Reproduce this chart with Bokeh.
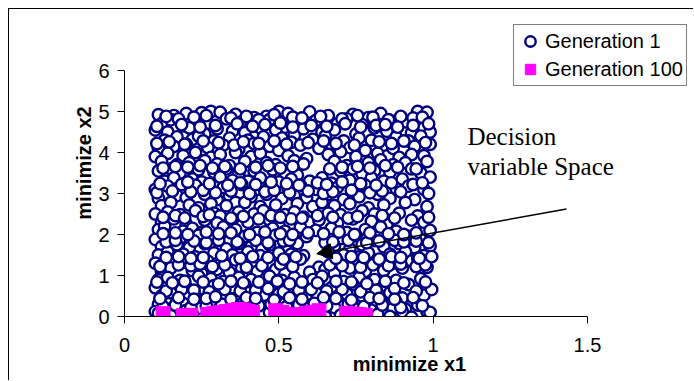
from bokeh.plotting import figure
from bokeh.models import (Range1d, Legend, LegendItem, Arrow, NormalHead, Label,
                          FixedTicker, NumeralTickFormatter)
from bokeh.embed import file_html
from bokeh.resources import INLINE

# ---------------- data ----------------
gen1_x = [
    0.11, 0.16, 0.20, 0.25, 0.28, 0.31, 0.36, 0.42, 0.46, 0.50, 0.53, 0.60, 0.66, 0.74, 0.79, 0.83, 0.95, 0.98,
    0.12, 0.15, 0.19, 0.23, 0.27, 0.33, 0.38, 0.41, 0.47, 0.52, 0.56, 0.62, 0.69, 0.72, 0.77, 0.86, 0.91, 0.97,
    0.10, 0.14, 0.21, 0.26, 0.30, 0.35, 0.39, 0.44, 0.49, 0.55, 0.58, 0.64, 0.68, 0.75, 0.81, 0.85, 0.93, 0.99,
    0.13, 0.17, 0.22, 0.24, 0.29, 0.34, 0.40, 0.45, 0.51, 0.54, 0.61, 0.65, 0.71, 0.76, 0.80, 0.88, 0.92, 0.96,
    0.11, 0.16, 0.20, 0.27, 0.32, 0.37, 0.42, 0.47, 0.50, 0.57, 0.63, 0.67, 0.73, 0.78, 0.84, 0.87, 0.94, 0.99,
    0.10, 0.14, 0.19, 0.23, 0.28, 0.31, 0.36, 0.41, 0.44, 0.53, 0.59, 0.66, 0.70, 0.75, 0.82, 0.89, 0.93, 0.97,
    0.12, 0.17, 0.21, 0.26, 0.30, 0.34, 0.39, 0.46, 0.49, 0.55, 0.58, 0.68, 0.72, 0.79, 0.83, 0.87, 0.91, 0.98,
    0.11, 0.15, 0.18, 0.24, 0.29, 0.33, 0.37, 0.42, 0.48, 0.52, 0.56, 0.70, 0.74, 0.77, 0.81, 0.86, 0.93, 0.96,
    0.13, 0.16, 0.22, 0.25, 0.31, 0.35, 0.40, 0.44, 0.50, 0.54, 0.60, 0.64, 0.67, 0.73, 0.80, 0.84, 0.90, 0.99,
    0.10, 0.14, 0.19, 0.23, 0.27, 0.32, 0.38, 0.43, 0.47, 0.53, 0.57, 0.62, 0.69, 0.75, 0.78, 0.88, 0.92, 0.97,
    0.11, 0.17, 0.20, 0.26, 0.30, 0.34, 0.36, 0.41, 0.46, 0.51, 0.55, 0.59, 0.66, 0.71, 0.76, 0.82, 0.86, 0.94,
    0.12, 0.15, 0.21, 0.24, 0.28, 0.33, 0.39, 0.44, 0.49, 0.56, 0.61, 0.64, 0.68, 0.73, 0.79, 0.84, 0.91, 0.98,
    0.10, 0.14, 0.18, 0.23, 0.29, 0.31, 0.37, 0.42, 0.45, 0.52, 0.55, 0.58, 0.66, 0.70, 0.77, 0.81, 0.89, 0.95,
    0.12, 0.16, 0.20, 0.26, 0.30, 0.35, 0.40, 0.47, 0.50, 0.54, 0.60, 0.63, 0.69, 0.74, 0.80, 0.85, 0.93, 0.97,
    0.11, 0.13, 0.19, 0.22, 0.25, 0.32, 0.36, 0.43, 0.48, 0.52, 0.57, 0.62, 0.67, 0.72, 0.78, 0.83, 0.88, 0.99,
    0.10, 0.15, 0.18, 0.24, 0.28, 0.34, 0.39, 0.45, 0.49, 0.55, 0.59, 0.65, 0.70, 0.75, 0.81, 0.86, 0.92, 0.96,
    0.12, 0.17, 0.21, 0.26, 0.31, 0.33, 0.37, 0.41, 0.47, 0.52, 0.56, 0.68, 0.73, 0.77, 0.84, 0.89, 0.94, 0.99,
    0.11, 0.14, 0.19, 0.23, 0.29, 0.35, 0.40, 0.44, 0.50, 0.54, 0.58, 0.66, 0.71, 0.76, 0.79, 0.86, 0.91, 0.97,
    0.10, 0.16, 0.20, 0.27, 0.31, 0.36, 0.42, 0.46, 0.48, 0.53, 0.57, 0.63, 0.69, 0.74, 0.82, 0.87, 0.93, 0.95,
    0.12, 0.15, 0.22, 0.25, 0.30, 0.34, 0.38, 0.43, 0.49, 0.52, 0.60, 0.65, 0.68, 0.73, 0.78, 0.84, 0.90, 0.98,
    0.11, 0.14, 0.18, 0.24, 0.28, 0.32, 0.37, 0.41, 0.47, 0.51, 0.55, 0.61, 0.64, 0.71, 0.76, 0.81, 0.88, 0.96,
    0.10, 0.16, 0.20, 0.26, 0.29, 0.35, 0.39, 0.44, 0.48, 0.53, 0.58, 0.63, 0.67, 0.74, 0.79, 0.85, 0.92, 0.98,
    0.12, 0.15, 0.21, 0.23, 0.31, 0.33, 0.40, 0.45, 0.50, 0.55, 0.59, 0.62, 0.69, 0.72, 0.77, 0.86, 0.90, 0.97,
    0.11, 0.17, 0.19, 0.25, 0.28, 0.36, 0.38, 0.43, 0.46, 0.52, 0.57, 0.61, 0.66, 0.70, 0.81, 0.84, 0.88, 0.95,
    0.10, 0.14, 0.20, 0.24, 0.30, 0.34, 0.41, 0.45, 0.49, 0.54, 0.58, 0.63, 0.68, 0.75, 0.80, 0.87, 0.91, 0.98,
    0.11, 0.15, 0.22, 0.27, 0.33, 0.39, 0.44, 0.47, 0.51, 0.60, 0.65, 0.70, 0.77, 0.82, 0.86, 0.90, 0.93, 0.99,
    0.135, 0.175, 0.225, 0.265, 0.345, 0.395, 0.435, 0.485, 0.545, 0.575, 0.635, 0.705, 0.755, 0.805, 0.855, 0.895, 0.935, 0.965,
    0.105, 0.145, 0.195, 0.255, 0.305, 0.355, 0.385, 0.435, 0.485, 0.525, 0.595, 0.645, 0.685, 0.745, 0.825, 0.865, 0.905, 0.975,
    0.125, 0.165, 0.205, 0.245, 0.285, 0.325, 0.375, 0.425, 0.465, 0.505, 0.545, 0.665, 0.705, 0.755, 0.795, 0.845, 0.885, 0.945,
    0.105, 0.155, 0.215, 0.255, 0.295, 0.345, 0.405, 0.455, 0.485, 0.535, 0.595, 0.645, 0.675, 0.735, 0.795, 0.835, 0.895, 0.985,
    0.125, 0.165, 0.195, 0.255, 0.275, 0.345, 0.385, 0.435, 0.475, 0.505, 0.575, 0.625, 0.675, 0.725, 0.755, 0.835, 0.875, 0.985,
    0.135, 0.165, 0.225, 0.265, 0.305, 0.365, 0.425, 0.465, 0.515, 0.535, 0.675, 0.725, 0.785, 0.825, 0.875, 0.905, 0.945, 0.985,
    0.115, 0.175, 0.215, 0.245, 0.285, 0.325, 0.395, 0.445, 0.505, 0.545, 0.665, 0.705, 0.765, 0.805, 0.855, 0.895, 0.945, 0.975,
    0.135, 0.185, 0.225, 0.275, 0.325, 0.375, 0.425, 0.465, 0.515, 0.565, 0.605, 0.655, 0.705, 0.765, 0.815, 0.875, 0.945, 0.995,
    0.125, 0.165, 0.215, 0.265, 0.315, 0.355, 0.395, 0.435, 0.475, 0.525, 0.565, 0.615, 0.655, 0.725, 0.775, 0.835, 0.895, 0.965,
    0.105, 0.185, 0.245, 0.295, 0.365, 0.415, 0.455, 0.505, 0.545, 0.605, 0.655, 0.715, 0.765, 0.815, 0.845, 0.885, 0.935, 0.985,
    0.115, 0.185, 0.205, 0.275, 0.335, 0.375, 0.425, 0.475, 0.525, 0.565, 0.625, 0.655, 0.705, 0.765, 0.815, 0.865, 0.935, 0.965,
    0.125, 0.165, 0.205, 0.265, 0.305, 0.345, 0.405, 0.455, 0.505, 0.545, 0.595, 0.645, 0.695, 0.745, 0.795, 0.855, 0.905, 0.945,
    0.135, 0.175, 0.215, 0.255, 0.315, 0.375, 0.415, 0.465, 0.515, 0.555, 0.685, 0.735, 0.775, 0.825, 0.865, 0.895, 0.955, 0.995,
    0.105, 0.155, 0.195, 0.255, 0.305, 0.345, 0.385, 0.435, 0.495, 0.535, 0.575, 0.625, 0.685, 0.735, 0.785, 0.845, 0.905, 0.975,
    0.115, 0.175, 0.225, 0.265, 0.295, 0.345, 0.395, 0.425, 0.485, 0.535, 0.575, 0.645, 0.685, 0.735, 0.795, 0.825, 0.875, 0.935,
]
gen1_y = [
    4.92, 4.90, 4.95, 4.97, 5.00, 4.98, 4.93, 4.85, 4.88, 5.00, 4.95, 4.99, 4.90, 4.93, 4.85, 4.95, 5.00, 4.98,
    4.70, 4.80, 4.65, 4.78, 4.72, 4.82, 4.75, 4.68, 4.80, 4.62, 4.75, 4.78, 4.70, 4.82, 4.68, 4.78, 4.75, 4.60,
    4.55, 4.50, 4.60, 4.45, 4.58, 4.52, 4.48, 4.60, 4.55, 4.42, 4.58, 4.50, 4.55, 4.45, 4.60, 4.52, 4.48, 4.50,
    4.30, 4.38, 4.32, 4.40, 4.28, 4.35, 4.30, 4.38, 4.35, 4.25, 4.32, 4.40, 4.28, 4.35, 4.30, 4.38, 4.28, 4.40,
    4.10, 4.15, 4.20, 4.12, 4.18, 4.08, 4.22, 4.15, 4.05, 4.18, 4.10, 4.20, 4.12, 4.05, 4.18, 4.10, 4.15, 4.20,
    3.90, 3.98, 3.92, 4.00, 3.88, 3.95, 4.00, 3.90, 3.98, 3.92, 3.85, 3.95, 4.02, 3.90, 3.98, 3.88, 3.95, 3.92,
    3.78, 3.70, 3.75, 3.80, 3.72, 3.68, 3.78, 3.75, 3.70, 3.80, 3.72, 3.78, 3.68, 3.75, 3.82, 3.70, 3.75, 3.78,
    3.55, 3.60, 3.50, 3.58, 3.52, 3.60, 3.48, 3.55, 3.58, 3.50, 3.45, 3.55, 3.60, 3.48, 3.55, 3.52, 3.60, 3.50,
    3.30, 3.38, 3.35, 3.28, 3.40, 3.32, 3.30, 3.38, 3.28, 3.35, 3.30, 3.38, 3.25, 3.32, 3.38, 3.30, 3.35, 3.40,
    3.10, 3.18, 3.12, 3.20, 3.08, 3.15, 3.22, 3.10, 3.18, 3.12, 3.20, 3.10, 3.15, 3.08, 3.20, 3.12, 3.18, 3.10,
    2.88, 2.95, 2.90, 2.98, 2.85, 2.95, 2.78, 2.92, 2.98, 2.88, 2.95, 2.90, 2.98, 2.85, 2.92, 2.98, 2.88, 2.85,
    2.70, 2.78, 2.72, 2.65, 2.75, 2.70, 2.78, 2.68, 2.72, 2.75, 2.68, 2.78, 2.70, 2.75, 2.65, 2.72, 2.78, 2.68,
    2.50, 2.55, 2.48, 2.58, 2.52, 2.45, 2.55, 2.50, 2.58, 2.48, 2.55, 2.42, 2.52, 2.48, 2.58, 2.50, 2.52, 2.45,
    2.30, 2.38, 2.25, 2.35, 2.28, 2.38, 2.30, 2.35, 2.25, 2.38, 2.30, 2.35, 2.28, 2.38, 2.32, 2.25, 2.35, 2.30,
    2.12, 2.20, 2.08, 2.15, 2.05, 2.18, 2.12, 2.05, 2.15, 2.08, 2.18, 2.10, 2.15, 2.05, 2.12, 2.18, 2.08, 2.10,
    1.88, 1.95, 1.90, 1.98, 1.92, 1.85, 1.95, 1.90, 1.98, 1.88, 1.95, 1.80, 1.90, 1.98, 1.85, 1.92, 1.95, 1.88,
    1.70, 1.75, 1.68, 1.78, 1.72, 1.65, 1.78, 1.70, 1.75, 1.68, 1.78, 1.72, 1.65, 1.75, 1.70, 1.78, 1.68, 1.72,
    1.50, 1.58, 1.52, 1.45, 1.55, 1.50, 1.58, 1.48, 1.55, 1.52, 1.48, 1.58, 1.50, 1.45, 1.55, 1.52, 1.58, 1.48,
    1.30, 1.38, 1.32, 1.35, 1.28, 1.38, 1.30, 1.35, 1.25, 1.38, 1.40, 1.20, 1.35, 1.28, 1.38, 1.30, 1.35, 1.42,
    1.10, 1.18, 1.12, 1.05, 1.15, 1.08, 1.18, 1.10, 1.15, 1.05, 1.08, 1.15, 1.05, 1.18, 1.10, 1.12, 1.18, 1.20,
    0.90, 0.95, 0.88, 0.98, 0.92, 0.85, 0.95, 0.90, 0.98, 0.88, 0.95, 0.90, 0.98, 0.85, 0.95, 0.90, 0.88, 0.92,
    0.70, 0.78, 0.72, 0.65, 0.75, 0.70, 0.78, 0.68, 0.72, 0.78, 0.65, 0.75, 0.70, 0.78, 0.68, 0.72, 0.78, 0.70,
    0.50, 0.58, 0.52, 0.45, 0.55, 0.48, 0.58, 0.50, 0.55, 0.45, 0.52, 0.58, 0.48, 0.55, 0.50, 0.58, 0.45, 0.52,
    0.30, 0.38, 0.32, 0.35, 0.28, 0.38, 0.30, 0.35, 0.25, 0.32, 0.38, 0.30, 0.35, 0.28, 0.38, 0.30, 0.35, 0.28,
    0.12, 0.18, 0.15, 0.20, 0.15, 0.22, 0.18, 0.15, 0.20, 0.15, 0.25, 0.18, 0.22, 0.18, 0.15, 0.20, 0.18, 0.12,
    0.08, 0.02, 0.05, 0.00, 0.08, 0.02, 0.05, 0.10, 0.00, 0.05, 0.00, 0.03, 0.08, 0.05, 0.00, 0.12, -0.02, 0.10,
    4.88, 4.82, 4.86, 4.90, 4.84, 4.88, 4.80, 4.92, 4.86, 4.84, 4.88, 4.82, 4.90, 4.86, 4.80, 4.88, 4.84, 4.86,
    4.22, 4.26, 4.20, 4.28, 4.24, 4.18, 4.26, 4.22, 4.28, 4.20, 4.24, 4.28, 4.22, 4.18, 4.26, 4.22, 4.28, 4.24,
    3.62, 3.66, 3.64, 3.68, 3.62, 3.66, 3.60, 3.64, 3.68, 3.62, 3.66, 3.60, 3.64, 3.66, 3.62, 3.68, 3.64, 3.60,
    3.02, 3.06, 3.04, 3.08, 3.02, 3.06, 3.00, 3.04, 3.08, 3.02, 3.06, 3.00, 3.04, 3.08, 3.02, 3.06, 3.04, 3.00,
    2.42, 2.46, 2.40, 2.44, 2.48, 2.40, 2.44, 2.38, 2.46, 2.42, 2.40, 2.46, 2.42, 2.40, 2.44, 2.46, 2.40, 2.42,
    1.82, 1.86, 1.84, 1.80, 1.86, 1.82, 1.86, 1.80, 1.84, 1.86, 1.82, 1.86, 1.80, 1.84, 1.86, 1.82, 1.84, 1.80,
    1.22, 1.26, 1.24, 1.28, 1.22, 1.26, 1.20, 1.24, 1.28, 1.22, 1.26, 1.24, 1.20, 1.26, 1.24, 1.28, 1.22, 1.26,
    0.62, 0.66, 0.64, 0.60, 0.66, 0.62, 0.64, 0.68, 0.60, 0.64, 0.66, 0.62, 0.66, 0.60, 0.64, 0.68, 0.62, 0.66,
    0.24, 0.28, 0.22, 0.26, 0.30, 0.28, 0.32, 0.26, 0.30, 0.24, 0.28, 0.32, 0.26, 0.30, 0.24, 0.28, 0.22, 0.26,
    4.64, 4.68, 4.62, 4.66, 4.70, 4.64, 4.68, 4.72, 4.62, 4.66, 4.64, 4.70, 4.62, 4.66, 4.68, 4.62, 4.66, 4.70,
    3.24, 3.22, 3.28, 3.24, 3.20, 3.26, 3.22, 3.28, 3.24, 3.20, 3.26, 3.22, 3.28, 3.24, 3.20, 3.26, 3.22, 3.26,
    2.02, 2.04, 2.00, 2.06, 2.02, 2.04, 2.00, 2.06, 2.02, 2.00, 2.04, 2.02, 2.06, 2.00, 2.04, 2.02, 2.00, 2.04,
    1.44, 1.46, 1.42, 1.44, 1.48, 1.42, 1.46, 1.44, 1.40, 1.46, 1.42, 1.46, 1.44, 1.40, 1.46, 1.44, 1.42, 1.46,
    0.84, 0.82, 0.86, 0.84, 0.80, 0.86, 0.82, 0.84, 0.86, 0.80, 0.84, 0.82, 0.86, 0.84, 0.80, 0.86, 0.82, 0.84,
    0.44, 0.46, 0.42, 0.44, 0.48, 0.42, 0.46, 0.44, 0.40, 0.46, 0.42, 0.46, 0.44, 0.40, 0.46, 0.44, 0.42, 0.46,
]

gen100_x = [0.125, 0.19, 0.215,
            0.27, 0.29, 0.31, 0.33, 0.35, 0.37, 0.385, 0.40, 0.415, 0.30, 0.34, 0.38, 0.41,
            0.49, 0.51, 0.53, 0.55, 0.57, 0.59, 0.61, 0.63, 0.50, 0.56,
            0.72, 0.74, 0.76, 0.78]
gen100_y = [0.07, 0.02, 0.03,
            0.05, 0.08, 0.10, 0.12, 0.15, 0.17, 0.16, 0.12, 0.10, 0.03, 0.05, 0.04, 0.03,
            0.14, 0.10, 0.05, 0.03, 0.05, 0.08, 0.10, 0.14, 0.04, 0.00,
            0.08, 0.06, 0.05, 0.03]

series_names = ["Generation 1", "Generation 100"]
x_ticks = [0, 0.5, 1, 1.5]
y_ticks = [0, 1, 2, 3, 4, 5, 6]
x_title = "minimize x1"
y_title = "minimize x2"
note_lines = ["Decision", "variable Space"]
note_x = 1.111
note_y = [4.39, 3.67]
arrow_from = (1.432, 2.62)
arrow_to = (0.623, 1.53)

# ---------------- layout (pixels) ----------------
W, H = 685, 372
FRAME_LEFT = 115              # canvas px of x = 0
FRAME_BOTTOM_FROM_TOP = 307   # canvas px of y = 0
PX_PER_X = 463.0 / 1.5
PX_PER_Y = 246.0 / 6.0
x_end = (W - FRAME_LEFT) / PX_PER_X
y_end = FRAME_BOTTOM_FROM_TOP / PX_PER_Y

p = figure(width=W, height=H, output_backend="svg", toolbar_location=None,
           x_range=Range1d(0, x_end), y_range=Range1d(0, y_end),
           min_border_left=FRAME_LEFT, min_border_right=0,
           min_border_top=0, min_border_bottom=H - FRAME_BOTTOM_FROM_TOP,
           background_fill_color="white", border_fill_color="white",
           styles={"margin-left": "8px", "margin-top": "8px",
                   "border-left": "1px solid black", "border-top": "1px solid black"})
p.grid.visible = False
p.outline_line_color = None

for ax in (p.xaxis[0], p.yaxis[0]):
    ax.axis_line_color = "black"
    ax.axis_line_width = 1
    ax.major_tick_line_color = "black"
    ax.major_tick_out = 7
    ax.major_tick_in = 0
    ax.minor_tick_line_color = None
    ax.major_label_text_font = "Liberation Sans"
    ax.major_label_text_font_size = "20px"
    ax.major_label_text_color = "black"
    ax.axis_label_text_font = "Liberation Sans"
    ax.axis_label_text_font_size = "20px"
    ax.axis_label_text_font_style = "bold"
    ax.axis_label_text_color = "black"
    ax.formatter = NumeralTickFormatter(format="0.[0]")

p.xaxis[0].ticker = FixedTicker(ticks=x_ticks)
p.yaxis[0].ticker = FixedTicker(ticks=y_ticks)
p.xaxis[0].bounds = (x_ticks[0], x_ticks[-1])
p.yaxis[0].bounds = (y_ticks[0], y_ticks[-1])
p.xaxis[0].major_label_standoff = 14
p.xaxis[0].axis_label_standoff = -2
p.yaxis[0].major_label_standoff = 8
p.yaxis[0].axis_label_standoff = 0
p.xaxis[0].axis_label = x_title
p.yaxis[0].axis_label = y_title

r1 = p.scatter(gen1_x, gen1_y, marker="circle", size=11.5, fill_color="white",
               line_color="#000080", line_width=2.4)
r2 = p.scatter(gen100_x, gen100_y, marker="square", size=14, fill_color="#FF00FF",
               line_color="#FF00FF", line_width=1)

legend = Legend(items=[LegendItem(label=series_names[0], renderers=[r1]),
                       LegendItem(label=series_names[1], renderers=[r2])],
                location=(389, 230), orientation="vertical",
                border_line_color="black", border_line_width=1,
                background_fill_color="white", background_fill_alpha=1,
                label_text_font="Liberation Sans", label_text_font_size="20px",
                label_text_color="black",
                glyph_width=26, glyph_height=26, label_standoff=2,
                padding=3, spacing=2, margin=0)
p.add_layout(legend)

p.add_layout(Arrow(end=NormalHead(size=15, fill_color="black", line_color="black"),
                   x_start=arrow_from[0], y_start=arrow_from[1],
                   x_end=arrow_to[0], y_end=arrow_to[1],
                   line_color="black", line_width=1.5))

for txt, yy in zip(note_lines, note_y):
    p.add_layout(Label(x=note_x, y=yy, text=txt, text_font="Liberation Serif",
                       text_font_size="25px", text_color="black",
                       text_align="left", text_baseline="alphabetic"))

open("out.html", "w").write(file_html(p, INLINE))
